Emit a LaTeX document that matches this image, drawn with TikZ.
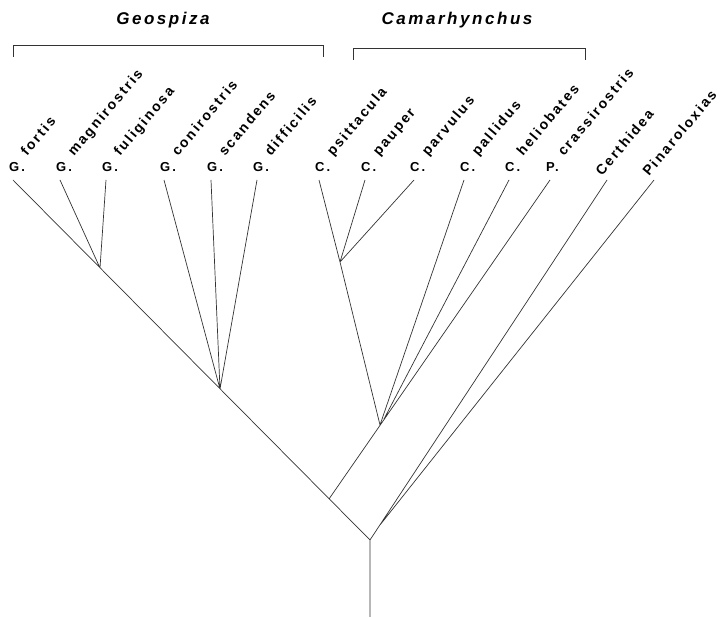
\documentclass[tikz,border=0pt]{standalone}
\usepackage{fontspec}
\setmainfont{Liberation Sans}
\newfontfamily\taxfont[LetterSpace=15]{Liberation Sans}
\tikzset{
  taxon/.style={font=\taxfont\bfseries\fontsize{14}{14}\selectfont,rotate=50,anchor=base west,inner sep=0pt},
  abbr/.style={font=\taxfont\bfseries\fontsize{13}{13}\selectfont,anchor=base west,inner sep=0pt},
  genus/.style={font=\taxfont\bfseries\itshape\fontsize{17}{17}\selectfont,inner sep=0pt},
  branch/.style={line width=0.7pt,black!80}
}
\begin{document}
\begin{tikzpicture}[x=1pt,y=-1pt]
  \useasboundingbox (0,0) rectangle (724,617);
  % tips with genus and species
  \foreach \n/\x/\a/\t in {
    gfor/13/G./fortis, gmag/60/G./magnirostris, gful/106/G./fuliginosa,
    gcon/164/G./conirostris, gsca/211/G./scandens, gdif/257/G./difficilis,
    cpsi/319/C./psittacula, cpau/365/C./pauper, cpar/414/C./parvulus,
    cpal/464/C./pallidus, chel/509/C./heliobates, pcra/550/P./crassirostris
  }{
    \coordinate (\n) at (\x,180);
    \node[abbr] (a\n) at (\x-4,172) {\a};
    \node[taxon] (t\n) at (\x+14,157) {\t};
  }
  % tips with genus only
  \foreach \n/\x/\t in {cert/607/Certhidea, pina/654/Pinaroloxias}{
    \coordinate (\n) at (\x,180);
    \node[taxon] (t\n) at (\x-5,177) {\t};
  }
  % forks
  \coordinate (root) at (370,540);
  \coordinate (base) at (370,617);
  \coordinate (fa) at (100,268);
  \coordinate (fb) at (220,389);
  \coordinate (fc) at (340,262);
  \coordinate (fd) at (380,425);
  \coordinate (fe) at (384,419);
  \coordinate (ff) at (380,525);
  \coordinate (fj) at (329,499);
  \draw[branch] (gfor) -- (root) -- (base)
    (gmag) -- (fa) (gful) -- (fa)
    (gcon) -- (fb) (gsca) -- (fb) (gdif) -- (fb)
    (cpsi) -- (fc) (cpau) -- (fc) (cpar) -- (fc) (fc) -- (fd)
    (cpal) -- (fd) (chel) -- (fe) (pcra) -- (fj)
    (cert) -- (root) (pina) -- (ff);
  % genera
  \node[genus] (geo) at (163,20) {Geospiza};
  \node[genus] (cam) at (457,20) {Camarhynchus};
  \draw[branch] (13,57) -- (13,45) -- (323,45) -- (323,57);
  \draw[branch] (353,60) -- (353,48) -- (585,48) -- (585,60);
\end{tikzpicture}
\end{document}
